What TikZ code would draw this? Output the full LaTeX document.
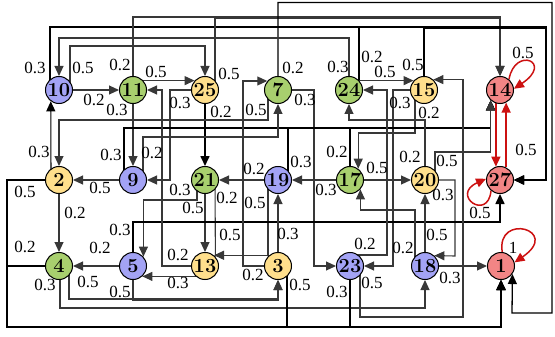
\documentclass[tikz,border=0pt]{standalone}
\usepackage{fontspec}
\newfontfamily\lblfont{Liberation Serif}
\usetikzlibrary{arrows.meta, calc}
\pgfdeclarelayer{background}
\pgfsetlayers{background,main}

\begin{document}
\begin{tikzpicture}[
    x=1pt, y=-1pt,
    state/.style={circle, draw=black, line width=1pt, minimum size=27pt,
        inner sep=0pt, font=\rmfamily\bfseries\fontsize{20}{20}\selectfont},
    wire/.style={draw=black!78, line width=1.1pt},
    bus/.style={draw=black, line width=1.6pt},
    redw/.style={draw=loopcolor, line width=1.5pt},
    arr/.style={-{Triangle[length=10pt,width=9pt]}},
    wlbl/.style={font=\lblfont\fontsize{17}{17}\selectfont, inner sep=0pt},
]

\definecolor{cblue}{HTML}{A3A3F5}
\definecolor{cgreen}{HTML}{A8CF6E}
\definecolor{cyellow}{HTML}{FFDF8C}
\definecolor{cred}{HTML}{F28585}
\definecolor{loopcolor}{HTML}{CC1111}

\useasboundingbox (0,0) rectangle (555,337);

% ================================================================
%   three rows of states, y = 90 / 180 / 266 (pixels, y down)
%   columns x = 59, 133, 205, 278, 350, 425, 500
% ================================================================

% ---------------------------------------------------------------- states
\foreach \n/\x/\y/\c in {10/59/90/cblue, 11/133/90/cgreen, 25/205/90/cyellow,
        7/278/90/cgreen, 24/349/90/cgreen, 15/424/90/cyellow, 14/500/90/cred,
        2/59/180/cyellow, 9/133/180/cblue, 21/205/180/cgreen, 19/278/180/cblue,
        17/350/180/cgreen, 20/425/180/cyellow, 27/500/180/cred,
        4/59/266/cgreen, 5/133/266/cblue, 13/205/266/cyellow, 3/278/266/cyellow,
        23/350/266/cblue, 18/425/266/cblue, 1/501/266/cred} {
    \node[state, fill=\c] (n\n) at (\x,\y) {\n};
}

\begin{pgfonlayer}{background}
% ---------------------------------------------------------------- top row out
\draw[wire, arr] (n10) -- (n11);
\draw[wire, arr] ($(n10)+(11,0)$) |- (n25 |- 0,46) -- (n25.north);
\draw[bus, arr] ($(n10)+(-9,0)$) |- (546,27) |- (n27.east);
\draw[wire, arr] (n11.42) -- (n25.138);
\draw[wire, arr] (n11) -- (n9);
\draw[wire, arr] (n11) |- (n14 |- 0,17) -- (n14.north);
\draw[wire, arr] ($(n25)+(10,0)$) |- (n14 |- 0,18) -- (n14.north);
\draw[wire, arr] (n25) -| (170,180) -- (n9.east);
\draw[bus, arr] (n25) -- (n21);
\draw[wire, draw=black, line width=1.3pt, arr] (n7) |- (552,2.5) |- (512,313) -- (n1.-35);
\draw[wire, arr] (n7) -| (314,266) -- (n23.west);
\draw[wire, arr] ($(n7)+(-10,0)$) |- (n2 |- 0,120) -- (n2.north);
\draw[wire, arr] (n24) |- (n10 |- 0,38) -- (n10.north);
\draw[bus, arr] ($(n24)+(10,0)$) |- (546,27) |- (n27.east);
\draw[wire, arr] (n24.42) -- (n15.138);
\draw[bus, arr] (n15) |- (546,28) |- (n27.east);
\draw[wire, arr] (n15) -| (393,266) -- (n23.east);
\draw[wire, arr] ($(n15)+(-9,0)$) |- (n17.54 |- 0,133) -- (n17.54);

% ---------------------------------------------------------------- middle row out
\draw[wire, draw=black, arr] ($(n2)+(-8,0)$) -- (n10.-126);
\draw[bus, arr] (n2) -| (7,327) -| (n1.south);
\draw[wire, arr] (n2) -- (n4);
\draw[wire, arr] (n9) -- (n2);
\draw[bus, arr] ($(n9)+(-9,0)$) |- (n14.-132 |- 0,128) -- (n14.-132);
\draw[wire, arr] ($(n9)+(10,0)$) |- (n7 |- 0,137) -- (n7.south);
\draw[wire, arr] (n19) -- (n21);
\draw[wire, arr] ($(n19)+(-10,0)$) |- (n13.50);
\draw[bus, arr] ($(n19)+(10,0)$) |- (n14.-132 |- 0,128) -- (n14.-132);
\draw[wire, arr] (n21) -- (n13);
\draw[wire, arr] ($(n21)+(-8,0)$) |- (n5.42 |- 0,200) -- (n5.42);
\draw[wire] ($(n21)+(10,0)$) -- (n13.42);
\draw[wire, arr] (n17) -- (n19);
\draw[wire, arr] (n17) -- (n20);
\draw[bus, arr] (n17) |- (n14.-132 |- 0,128) -- (n14.-132);
\draw[wire, arr] (n20) |- (n24 |- 0,120) -- (n24.south);
\draw[wire, arr] ($(n20)+(10,0)$) |- (n14.-132 |- 0,152) -- (n14.-132);
\draw[wire, arr] (n20) -| (455,256) -- (n18.48);

% ---------------------------------------------------------------- bottom row out
\draw[bus, arr] (n4) -| (7,327) -| (n1.south);
\draw[wire, arr] ($(n4)+(1,0)$) |- (n18 |- 0,308) -- (n18.south);
\draw[wire, arr] ($(n4)+(10,0)$) |- (n3 |- 0,299) -- (n3.south);
\draw[wire, arr] (n5) -- (n4);
\draw[bus, arr] (n5) |- (n27 |- 0,222) -- (n27.south);
\draw[wire, arr] (n5) |- (n3 |- 0,300) -- (n3.south);
\draw[wire, arr] (n13) -| (162,90) -- (n11.east);
\draw[wire, arr] ($(n13)+(-5,0)$) |- (n5.-48);
\draw[wire, arr] (n3) -- (n19);
\draw[wire, arr] (n3) -- ++(-35,0) |- (n7.140);
\draw[bus, arr] ($(n3)+(9,0)$) |- (n1 |- 0,327) -- (n1.south);
\draw[wire, arr] ($(n23)+(0,-11)$) -| (387,90) -- (n24.east);
\draw[bus, arr] (n23) |- (n1 |- 0,327) -- (n1.south);
\draw[wire, arr] ($(n23)+(10,0)$) |- (463,317) |- (n15.48);
\draw[wire, arr] (n18) -- (n20);
\draw[wire, arr] (n18) -- (n1);
\draw[wire, arr] ($(n18)+(-10,0)$) |- (n17.-42 |- 0,210) -- (n17.-42);

% ---------------------------------------------------------------- absorbing states
\draw[redw, arr] (n14.-107) -- (n27.107);
\draw[redw, arr] (n27.64) -- (n14.-64);
\draw[redw, arr] (n14.50) .. controls (515,46) and (554,62) .. (n14.5);
\draw[redw, arr] (n27.-130) .. controls (488,222) and (450,195) .. (n27.175);
\draw[redw, arr] (n1.85) .. controls (496,212) and (562,230) .. (n1.15);
\end{pgfonlayer}

% ---------------------------------------------------------------- weights
\foreach \t/\x/\y [count=\i] in {0.3/35/68, 0.5/83/68, 0.2/94/100, 0.2/120/65,
        0.5/156/72, 0.3/117/110, 0.3/180/103, 0.2/221/112, 0.5/229/74,
        0.2/293/68, 0.3/305/100, 0.5/256/110, 0.3/338/67, 0.2/372/57,
        0.5/385/72, 0.5/413/65, 0.3/400/103, 0.2/429/113, 0.5/523/53,
        0.5/526/150, 0.3/39/152, 0.3/111/155, 0.2/152/153, 0.3/301/162,
        0.2/337/152, 0.2/410/157, 0.5/447/161, 0.5/25/192, 0.5/100/188,
        0.2/75/213, 0.2/254/169, 0.3/180/190, 0.2/227/198, 0.5/193/208,
        0.5/255/203, 0.3/326/190, 0.5/377/168, 0.3/443/195, 0.5/480/213,
        0.3/120/230, 0.2/25/247, 0.2/100/248, 0.2/178/255, 0.5/230/235,
        0.3/288/234, 0.2/365/244, 0.2/403/248, 0.5/437/235, 1/513/248,
        0.5/88/282, 0.3/45/285, 0.5/120/292, 0.3/178/283, 0.2/253/275,
        0.5/300/285, 0.3/337/292, 0.5/372/283, 0.3/450/278} {
    \node[wlbl] (w\i) at (\x,\y) {\t};
}

\end{tikzpicture}
\end{document}
